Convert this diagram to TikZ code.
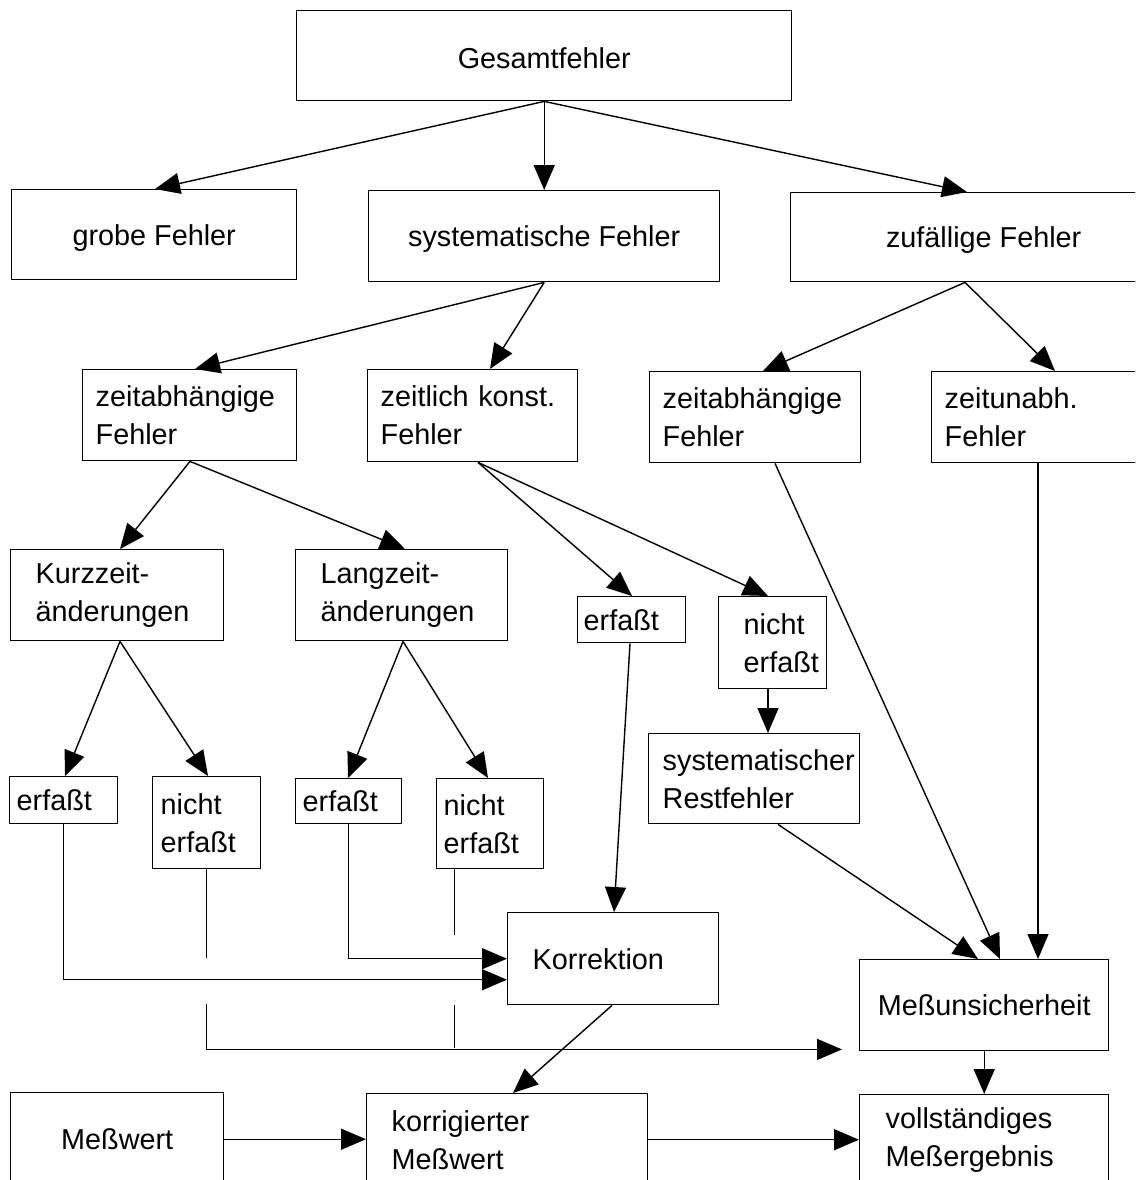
\documentclass[tikz,border=0pt]{standalone}
\usepackage{fontspec}
\setmainfont{Liberation Sans}
\usetikzlibrary{arrows.meta}
\tikzset{
  box/.style={draw, line width=1.4pt, rectangle, inner ysep=0pt, font=\fontsize{28.8}{38}\selectfont},
  conn/.style={line width=1.4pt},
  arr/.style={conn, -{Triangle[length=25pt,width=21pt]}},
}
\newcommand\txtdown[1]{\raisebox{-3pt}[\height][\depth]{#1}}
\newcommand\mkcbox[6]{%
  \pgfmathsetmacro\bxw{#4-#2}\pgfmathsetmacro\bxh{#5-#3}%
  \node[box, anchor=north west, minimum width=\bxw pt, minimum height=\bxh pt, inner xsep=0pt, align=center] (#1) at (#2,#3) {#6};}
\newcommand\mklbox[7]{%
  \pgfmathsetmacro\bxw{#4-#2}\pgfmathsetmacro\bxh{#5-#3}\pgfmathsetmacro\bxs{#6-#2}\pgfmathsetmacro\bxt{\bxw-2*\bxs}%
  \node[box, anchor=north west, minimum width=\bxw pt, minimum height=\bxh pt, inner xsep=\bxs pt, text width=\bxt pt, align=left] (#1) at (#2,#3) {#7};}
\begin{document}
\begin{tikzpicture}[x=1pt,y=-1pt]
\clip (0,0) rectangle (1135,1180);
\fill[white] (0,0) rectangle (1135,1180);
% level 1-2
\mkcbox{ges}{296}{10}{791}{100}{\txtdown{Gesamtfehler}}
\mkcbox{grob}{11}{189}{296}{279}{\txtdown{grobe Fehler}}
\mkcbox{sys}{368}{190}{719}{281}{\txtdown{systematische Fehler}}
\mkcbox{zuf}{790}{192}{1176}{281}{\txtdown{zufällige Fehler}}
% level 3
\mklbox{zab1}{82}{369}{296}{460}{95}{zeitabhängige\\Fehler}
\mklbox{zk}{367}{369}{577}{461}{380}{zeitlich konst.\\Fehler}
\mklbox{zab2}{649}{371}{860}{462}{662}{zeitabhängige\\Fehler}
\mklbox{zun}{931}{371}{1160}{462}{944}{zeitunabh.\\Fehler}
% level 4
\mklbox{kurz}{10}{549}{223}{640}{35}{Kurzzeit-\\änderungen}
\mklbox{lang}{295}{549}{507}{640}{320}{Langzeit-\\änderungen}
\mklbox{erfR}{577}{596}{685}{642}{583}{erfaßt}
\mklbox{nerfR}{718}{596}{826}{688}{743}{nicht\\erfaßt}
\mklbox{rest}{648}{733}{859}{823}{662}{systematischer\\Restfehler}
% level 5
\mklbox{e1}{9}{776}{117}{823}{16}{erfaßt}
\mklbox{ne1}{152}{776}{260}{868}{160}{nicht\\erfaßt}
\mklbox{e2}{295}{778}{401}{823}{302}{erfaßt}
\mklbox{ne2}{436}{778}{543}{868}{443}{nicht\\erfaßt}
\mklbox{korr}{507}{912}{718}{1004}{532}{Korrektion}
\mkcbox{mu}{859}{959}{1108}{1050}{Meßunsicherheit}
% bottom row
\mkcbox{mw}{10}{1092}{223}{1185}{Meßwert}
\mklbox{km}{366}{1093}{647}{1185}{391}{korrigierter\\Meßwert}
\mklbox{vm}{859}{1094}{1108}{1185}{885}{vollständiges\\Meßergebnis}
% connectors
\draw[arr] (ges.south) -- ([xshift=144pt]grob.north west);
\draw[arr] (ges.south) -- (sys.north);
\draw[arr] (ges.south) -- ([xshift=177pt]zuf.north west);
\draw[arr] (sys.south) -- ([xshift=113pt]zab1.north west);
\draw[arr] (sys.south) -- ([xshift=123pt]zk.north west);
\draw[arr] ([xshift=175pt]zuf.south west) -- ([xshift=114pt]zab2.north west);
\draw[arr] ([xshift=175pt]zuf.south west) -- ([xshift=124pt]zun.north west);
\draw[arr] ([xshift=108pt]zab1.south west) -- ([xshift=110pt]kurz.north west);
\draw[arr] ([xshift=108pt]zab1.south west) -- ([xshift=110pt]lang.north west);
\draw[arr] ([xshift=111pt]zk.south west) -- ([xshift=55pt]erfR.north west);
\draw[arr] ([xshift=111pt]zk.south west) -- ([xshift=50pt]nerfR.north west);
\draw[arr] ([xshift=126pt]zab2.south west) -- ([xshift=141pt]mu.north west);
\draw[arr] ([xshift=107pt]zun.south west) -- ([xshift=179pt]mu.north west);
\draw[arr] ([xshift=130pt]rest.south west) -- ([xshift=119pt]mu.north west);
\draw[arr] ([xshift=110pt]kurz.south west) -- ([xshift=56pt]e1.north west);
\draw[arr] ([xshift=110pt]kurz.south west) -- ([xshift=56pt]ne1.north west);
\draw[arr] ([xshift=108pt]lang.south west) -- ([xshift=53pt]e2.north west);
\draw[arr] ([xshift=108pt]lang.south west) -- ([xshift=52pt]ne2.north west);
\draw[arr] ([xshift=50pt]nerfR.south west) -- ([xshift=120pt]rest.north west);
\draw[arr] ([xshift=53pt]erfR.south west) -- ([xshift=107pt]korr.north west);
\draw[arr] (e1.south) |- ([yshift=-21pt]korr.west);
\draw[arr] (e2.south) |- (korr.west);
\draw[conn] (ne1.south) -- ++(0,89);
\draw[arr] ([yshift=-135pt]ne1.south) |- ([xshift=-17pt,yshift=2pt]mu.south west);
\draw[conn] ([xshift=18.5pt]ne2.south west) -- ++(0,66);
\draw[conn] ([xshift=18.5pt,yshift=-136pt]ne2.south west) -- ++(0,43);
\draw[arr] ([xshift=105pt]korr.south west) -- ([xshift=147pt]km.north west);
\draw[arr] (mu.south) -- (vm.north);
\draw[arr] (mw.east) -- (mw.east -| km.west);
\draw[arr] (km.east) -- (km.east -| vm.west);
\end{tikzpicture}
\end{document}
